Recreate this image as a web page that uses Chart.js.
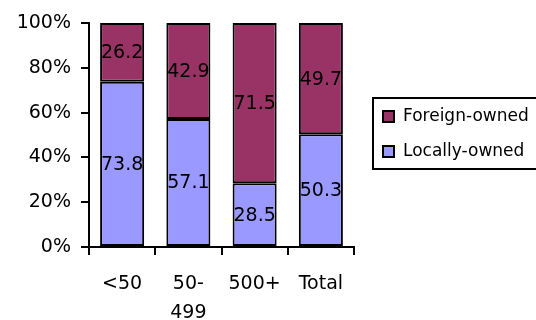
<!DOCTYPE html>
<html>
<head>
<meta charset="utf-8">
<script src="https://cdn.jsdelivr.net/npm/chart.js@4/dist/chart.umd.min.js"></script>
<style>
  html, body { margin: 0; padding: 0; background: #fff; }
  #wrap { width: 536px; height: 320px; position: relative; }
</style>
</head>
<body>
<div id="wrap"><canvas id="c" width="536" height="320"></canvas></div>
<script>
// Ownership share by firm size (percent)
const categories = [['<50'], ['50-', '499'], ['500+'], ['Total']];
const locallyOwned = [73.8, 57.1, 28.5, 50.3];
const foreignOwned = [26.2, 42.9, 71.5, 49.7];
const yTicks = [0, 20, 40, 60, 80, 100];

const FONT = 'DejaVu Sans';

// Value printed in the middle of every stacked segment
const segmentLabels = {
  id: 'segmentLabels',
  afterDatasetsDraw(chart) {
    const ctx = chart.ctx;
    ctx.save();
    ctx.font = '19px "' + FONT + '"';
    ctx.fillStyle = '#000';
    ctx.textAlign = 'center';
    ctx.textBaseline = 'middle';
    chart.data.datasets.forEach((ds, i) => {
      const meta = chart.getDatasetMeta(i);
      meta.data.forEach((bar, j) => {
        const v = ds.data[j];
        ctx.fillText(v.toFixed(1), bar.x, (bar.y + bar.base) / 2 + 1);
      });
    });
    ctx.restore();
  }
};

// Boxed legend to the right of the plot, top series listed first
const boxedLegend = {
  id: 'boxedLegend',
  afterDraw(chart) {
    const ctx = chart.ctx;
    const area = chart.chartArea;
    const left = area.right + 19;
    const top = 98;
    const rowH = 35;
    const items = chart.data.datasets.map(d => ({ label: d.label, color: d.backgroundColor })).reverse();
    ctx.save();
    ctx.lineWidth = 2;
    ctx.strokeStyle = '#000';
    ctx.strokeRect(left, top, chart.width - left + 10, items.length * rowH + 1);
    ctx.font = '17px "' + FONT + '"';
    ctx.textBaseline = 'middle';
    ctx.textAlign = 'left';
    items.forEach((it, k) => {
      const cy = top + 19 + k * rowH;
      ctx.fillStyle = it.color;
      ctx.fillRect(left + 10, cy - 6, 11, 11);
      ctx.lineWidth = 2;
      ctx.strokeStyle = '#000';
      ctx.strokeRect(left + 10, cy - 6, 11, 11);
      ctx.fillStyle = '#000';
      ctx.fillText(it.label, left + 30, cy);
    });
    ctx.restore();
  }
};

new Chart(document.getElementById('c'), {
  type: 'bar',
  data: {
    labels: categories,
    datasets: [
      {
        label: 'Locally-owned',
        data: locallyOwned,
        backgroundColor: '#9999FF',
        borderColor: '#000',
        borderWidth: 2,
        borderSkipped: false
      },
      {
        label: 'Foreign-owned',
        data: foreignOwned,
        backgroundColor: '#993366',
        borderColor: '#000',
        borderWidth: 2,
        borderSkipped: false
      }
    ]
  },
  options: {
    responsive: false,
    animation: false,
    devicePixelRatio: 1,
    layout: { padding: { left: 0, right: 182, top: 23, bottom: 0 } },
    categoryPercentage: 1,
    barPercentage: 0.665,
    plugins: {
      legend: { display: false },
      tooltip: { enabled: false }
    },
    scales: {
      x: {
        stacked: true,
        afterFit(s) { s.height = 73; },
        grid: {
          offset: true,
          drawOnChartArea: false,
          drawTicks: true,
          tickLength: 8,
          color: '#000',
          lineWidth: 2
        },
        border: { display: true, color: '#000', width: 2 },
        ticks: {
          color: '#000',
          padding: 15,
          maxRotation: 0,
          autoSkip: false,
          font: { family: FONT, size: 19, lineHeight: 1.5 }
        }
      },
      y: {
        stacked: true,
        min: 0,
        max: 100,
        afterFit(s) { s.width = 89; },
        afterBuildTicks(s) { s.ticks = yTicks.map(v => ({ value: v })); },
        grid: {
          drawOnChartArea: false,
          drawTicks: true,
          tickLength: 8,
          color: '#000',
          lineWidth: 2
        },
        border: { display: true, color: '#000', width: 2 },
        ticks: {
          color: '#000',
          padding: 10,
          font: { family: FONT, size: 19 },
          callback: v => v + '%'
        }
      }
    }
  },
  plugins: [segmentLabels, boxedLegend]
});
</script>
</body>
</html>
